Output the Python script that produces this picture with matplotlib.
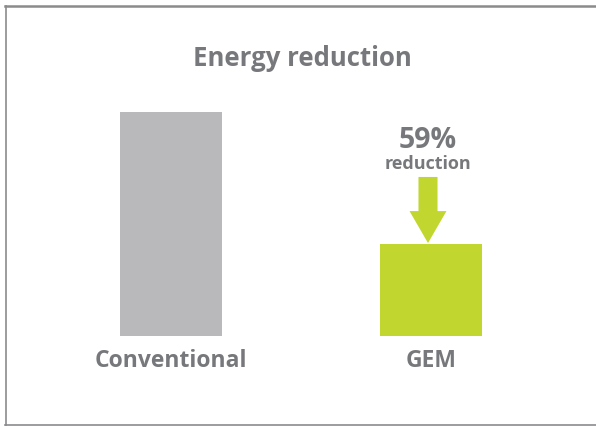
import matplotlib
matplotlib.use("Agg")
import matplotlib.pyplot as plt
from matplotlib.lines import Line2D

# data
categories = ["Conventional", "GEM"]
energy = [100, 41]
bar_colors = ["#b9b9bb", "#c1d72f"]
reduction = 100 - energy[1]

W, H = 596, 426
fig = plt.figure(figsize=(W / 100, H / 100), dpi=100)
plt.rcParams['font.family'] = ['Open Sans', 'DejaVu Sans']
txt = "#77787b"

# axes: value 0 at y=336px, value 100 at y=112px; category 0 at x=171, 1 at x=431
ax = fig.add_axes([0, (H - 336) / H, 1, 224 / H])
ax.set_xlim(-171 / 260, (W - 171) / 260)
ax.set_ylim(0, 100)
ax.axis('off')

ax.bar(range(len(categories)), energy, width=102 / 260, color=bar_colors)

for i, c in enumerate(categories):
    ax.text(i, -11, c, ha='center', va='center', fontsize=16.5, fontweight='bold', color=txt)

# arrow down onto GEM bar
xa = 1 - 3 / 260
ax.annotate("", xy=(xa, energy[1] + 0.5), xytext=(xa, energy[1] + 30),
            arrowprops=dict(arrowstyle="simple,head_length=23,head_width=26.6,tail_width=13.7",
                            mutation_scale=1, color=bar_colors[1], shrinkA=0, shrinkB=0, lw=0))
ax.text(xa, 87.3, f"{reduction}%", ha='center', va='center', fontsize=20.5,
        fontweight='bold', color=txt)
ax.text(xa, 77, "reduction", ha='center', va='center', fontsize=13,
        fontweight='bold', color=txt)

fig.text(302 / W, 1 - 58.5 / H, "Energy reduction", ha='center', va='center',
         fontsize=18.5, fontweight='bold', color=txt)

# frame lines (left, top, bottom)
bc = "#8b8b8e"
fig.add_artist(Line2D([5.5 / W, 5.5 / W], [1 - 6 / H, 1 - 425 / H], color=bc, lw=1.2))
fig.add_artist(Line2D([5 / W, 1], [1 - 6 / H, 1 - 6 / H], color=bc, lw=1.8))
fig.add_artist(Line2D([5 / W, 1], [1 - 425 / H, 1 - 425 / H], color=bc, lw=1.2))

fig.savefig("out.png", dpi=100)
